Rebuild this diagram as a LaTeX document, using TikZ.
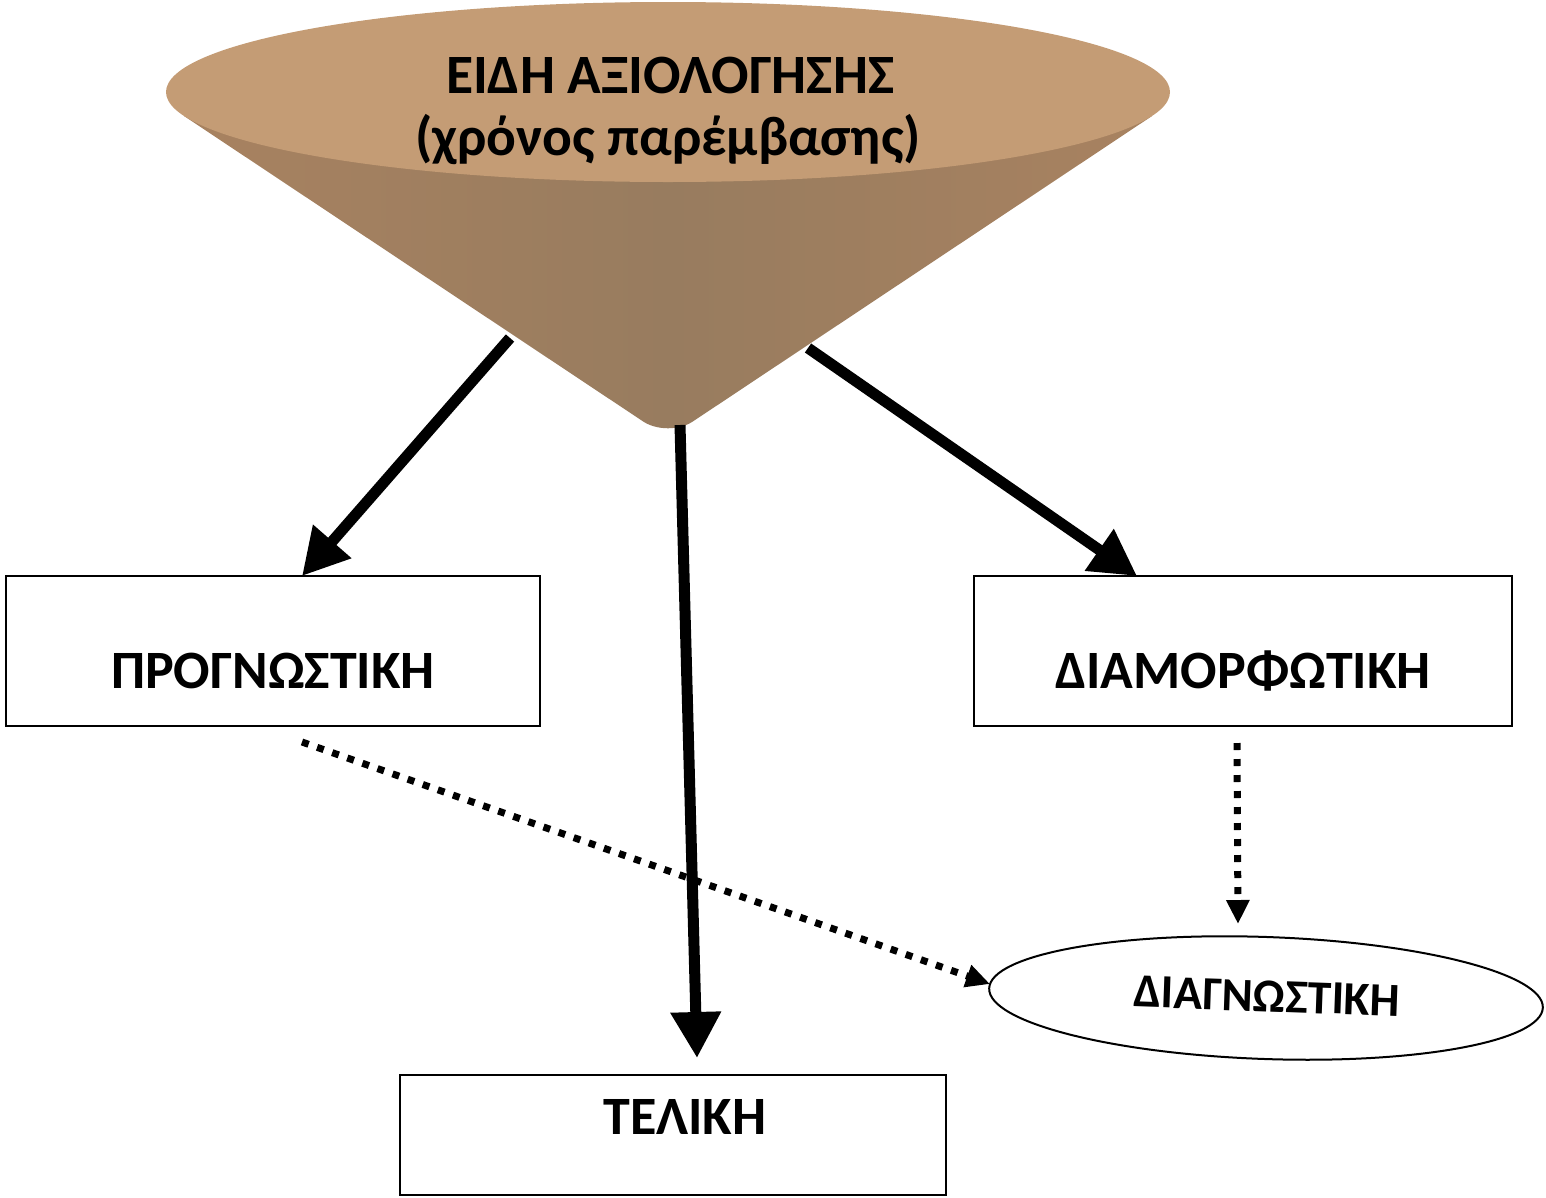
\documentclass[tikz,border=0pt]{standalone}
\usepackage{fontspec}
\setmainfont{Carlito}
\usetikzlibrary{arrows.meta,shapes.geometric}
\definecolor{conetop}{RGB}{196,156,117}
\definecolor{coneside}{RGB}{168,130,96}
\definecolor{conemid}{RGB}{152,124,95}
\tikzset{
  boxnode/.style={draw=black, line width=2pt, rectangle, inner sep=0pt},
  lbl/.style={font=\bfseries\fontsize{54}{60}\selectfont, inner sep=0pt, anchor=base},
  titlelbl/.style={font=\bfseries\fontsize{55.5}{60}\selectfont, inner sep=0pt, anchor=base},
  bigarrow/.style={line width=11pt, -{Triangle[length=46pt,width=48pt]}},
  dotarrow/.style={line width=7pt, dash pattern=on 7pt off 9pt, -{Triangle[length=24pt,width=22pt]}},
}
\begin{document}
\begin{tikzpicture}[x=1pt,y=-1pt]
\useasboundingbox (0,0) rectangle (1546,1197);
% cone body
\shade[left color=coneside, right color=coneside, middle color=conemid]
  (184,116) [rounded corners=30pt] -- (668,438) [rounded corners=0pt] -- (1152,116) -- cycle;
% cone top
\fill[conetop] (668,92) ellipse [x radius=502, y radius=90];
\node[titlelbl] (title1) at (670,93) {ΕΙΔΗ ΑΞΙΟΛΟΓΗΣΗΣ};
\node[titlelbl] (title2) at (668,155) {(χρόνος παρέμβασης)};
\coordinate (sL) at (510,338);
\coordinate (sM) at (680,425);
\coordinate (sR) at (808,348);
% boxes
\node[boxnode, minimum width=534pt, minimum height=150pt] (prog) at (273,651) {};
\node[lbl] (progt) at (273,688) {ΠΡΟΓΝΩΣΤΙΚΗ};
\node[boxnode, minimum width=538pt, minimum height=150pt] (diam) at (1243,651) {};
\node[lbl] (diamt) at (1243,688) {ΔΙΑΜΟΡΦΩΤΙΚΗ};
\node[boxnode, minimum width=546pt, minimum height=120pt] (tel) at (673,1135) {};
\node[lbl] (telt) at (685,1134) {ΤΕΛΙΚΗ};
\node[draw=black, line width=2pt, ellipse, minimum width=554pt, minimum height=122pt, inner sep=0pt, rotate=-2] (diag) at (1266,998) {};
\node[font=\bfseries\fontsize{47.5}{52}\selectfont, inner sep=0pt, rotate=-2] (diagt) at (1267,996) {ΔΙΑΓΝΩΣΤΙΚΗ};
% arrows
\coordinate (eL) at (302,576);
\coordinate (eM) at (697,1058);
\coordinate (eR) at (1137,576);
\draw[bigarrow] (sL) -- (eL);
\draw[bigarrow] (sM) -- (eM);
\draw[bigarrow] (sR) -- (eR);
\coordinate (dS) at (302,742);
\coordinate (dE) at (990,984);
\draw[dotarrow] (dS) -- (dE);
\coordinate (vS) at (1237,743);
\coordinate (vE) at (1238,924);
\draw[dotarrow] (vS) -- (vE);
\end{tikzpicture}
\end{document}
